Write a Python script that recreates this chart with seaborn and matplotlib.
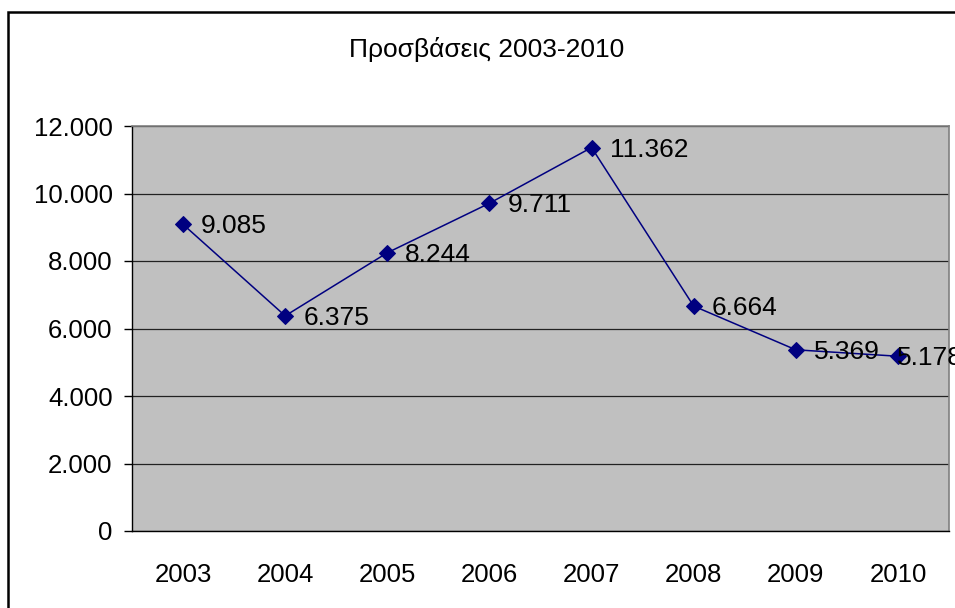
import numpy as np
import pandas as pd
import seaborn as sns
import matplotlib.pyplot as plt
from matplotlib.patches import Rectangle
from matplotlib.ticker import FuncFormatter, FixedLocator

# Data
years = ["2003", "2004", "2005", "2006", "2007", "2008", "2009", "2010"]
visits = [9085, 6375, 8244, 9711, 11362, 6664, 5369, 5178]
title = "Προσβάσεις 2003-2010"

df = pd.DataFrame({"year": years, "visits": visits})

sns.set_style("white")
plt.rcParams["font.family"] = ["Liberation Sans", "DejaVu Sans"]
plt.rcParams["text.color"] = "black"
plt.rcParams["xtick.color"] = "black"
plt.rcParams["ytick.color"] = "black"
plt.rcParams["xtick.labelcolor"] = "black"
plt.rcParams["ytick.labelcolor"] = "black"

fig = plt.figure(figsize=(9.55, 6.08), dpi=100)
ax = fig.add_axes([132 / 955, 1 - 531 / 608, 817 / 955, 405 / 608])
ax.set_facecolor("#c0c0c0")

sns.lineplot(data=df, x="year", y="visits", ax=ax, color="#000080",
             linewidth=1.1, marker="D", markersize=8,
             markeredgecolor="#000080", sort=False)

# data labels (the last one sits on its marker and runs off the edge, as in the original)
for i, v in enumerate(visits):
    dx = 13 if i < len(visits) - 1 else -1
    ax.annotate(f"{v:,}".replace(",", "."), (i, v), xytext=(dx, -1.5),
                textcoords="offset points", va="center", ha="left",
                fontsize=19, color="black",
                annotation_clip=False, clip_on=False)

ax.set_ylim(0, 12000)
ax.set_xlim(-0.5, len(years) - 0.5)
ax.set_yticks(np.arange(0, 12001, 2000))
ax.yaxis.set_major_formatter(FuncFormatter(lambda v, p: f"{int(v):,}".replace(",", ".")))
ax.yaxis.grid(True, color="#222222", linewidth=0.9)
ax.set_axisbelow(True)

ax.set_xticks(range(len(years)))
ax.set_xticklabels(years)
ax.xaxis.set_minor_locator(FixedLocator(np.arange(-0.5, len(years), 1.0)))
ax.tick_params(axis="x", which="major", length=0, pad=23, labelsize=18.5)
ax.tick_params(axis="x", which="minor", length=6, width=1, color="black", direction="out")
ax.tick_params(axis="y", length=6, width=1, color="black", direction="out", pad=8, labelsize=18.5)
ax.tick_params(left=True, bottom=True)

ax.set_xlabel("")
ax.set_ylabel("")

for s in ["left", "bottom"]:
    ax.spines[s].set_color("black")
    ax.spines[s].set_linewidth(1)
for s in ["top", "right"]:
    ax.spines[s].set_color("#808080")
    ax.spines[s].set_linewidth(1.2)

fig.text(487 / 955, 1 - 50 / 608, title, ha="center", va="center", fontsize=19)

# outer chart border
fig.patches.append(Rectangle((8 / 955, -0.1), 1.2, 1 - 12 / 608 + 0.1,
                             transform=fig.transFigure, fill=False,
                             edgecolor="black", linewidth=1.8))

fig.savefig("out.png", dpi=100)
